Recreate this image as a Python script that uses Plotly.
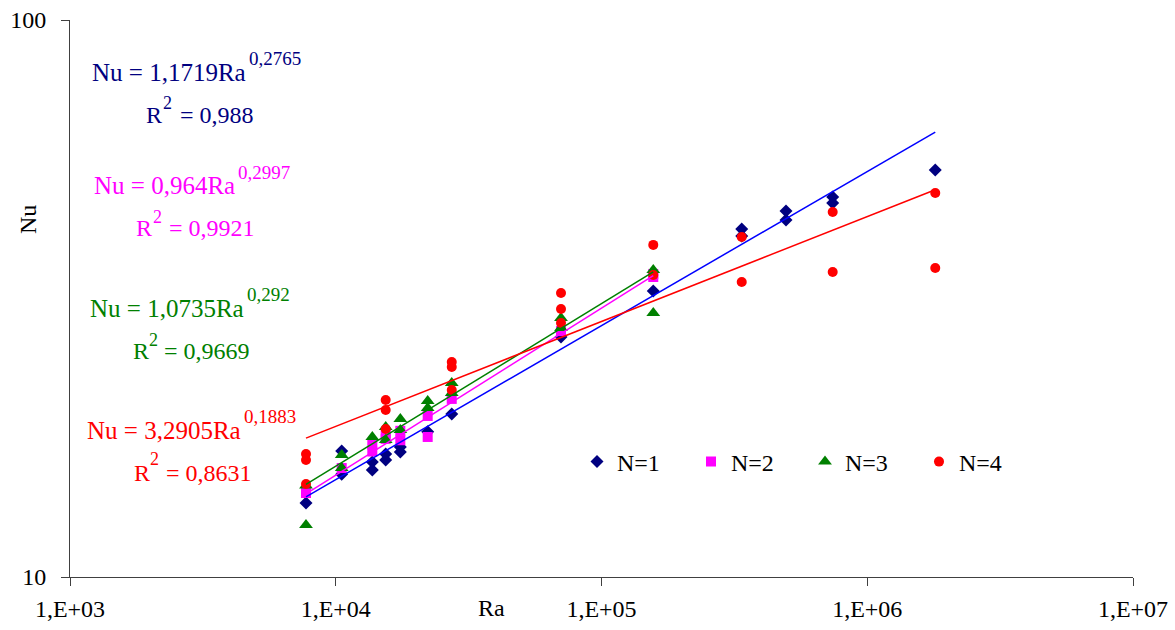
import numpy as np
import plotly.graph_objects as go

# Measured Nusselt numbers vs Rayleigh number for N = 1..4
ra_n1 = [7727, 10530, 10530, 13727, 13727, 15417, 15417, 17498, 17498, 22180, 27320,
         70400, 156600, 337000, 337000, 494700, 494700, 741300, 741300, 1803000]
nu_n1 = [13.58, 16.84, 15.30, 16.08, 15.56, 16.63, 16.22, 17.12, 16.77, 18.22, 19.62,
         26.97, 32.62, 42.16, 40.95, 45.41, 43.74, 48.11, 46.94, 53.8]

ra_n2 = [7727, 10530, 13727, 13727, 15417, 15417, 17498, 17498, 22180, 22180, 27320,
         70400, 156600, 156600]
nu_n2 = [14.15, 15.69, 17.3, 16.8, 18.1, 17.7, 18.3, 17.6, 19.46, 17.84, 20.88,
         27.64, 34.56, 35.0]

ra_n3 = [7727, 7727, 10530, 10530, 13727, 15417, 15417, 17498, 17498, 22180, 22180,
         27320, 27320, 70400, 70400, 156600, 156600]
nu_n3 = [14.6, 12.4, 16.56, 15.69, 17.84, 18.59, 17.62, 19.22, 18.36, 20.70, 20.12,
         22.30, 21.40, 29.17, 27.99, 35.58, 29.79]

ra_n4 = [7727, 7727, 7727, 15417, 15417, 15417, 27320, 27320, 27320, 70400, 70400, 70400,
         156600, 156600, 337000, 337000, 741300, 741300, 1803000, 1803000]
nu_n4 = [16.63, 16.22, 14.69, 20.79, 19.95, 18.44, 24.32, 23.82, 21.67, 32.35, 30.28, 28.58,
         39.47, 34.84, 40.78, 33.85, 45.22, 35.28, 48.92, 35.87]

# Power-law fits Nu = C * Ra^n
fit_c = [1.1719, 0.964, 1.0735, 3.2905]
fit_n = [0.2765, 0.2997, 0.292, 0.1883]
fit_r2 = ["0,988", "0,9921", "0,9669", "0,8631"]
fit_c_txt = ["1,1719", "0,964", "1,0735", "3,2905"]
fit_n_txt = ["0,2765", "0,2997", "0,292", "0,1883"]

series_names = ["N=1", "N=2", "N=3", "N=4"]
marker_colors = ["#000080", "#FF00FF", "#008000", "#FF0000"]
line_colors = ["#0000FF", "#FF00FF", "#008000", "#FF0000"]
symbols = ["diamond", "square", "triangle-up", "circle"]
sizes = [10, 10, 12, 10]

x_ticks = [1e3, 1e4, 1e5, 1e6, 1e7]
x_ticktext = ["1,E+03", "1,E+04", "1,E+05", "1,E+06", "1,E+07"]
y_ticks = [10, 100]
y_ticktext = ["10", "100"]

FONT = "Liberation Serif"
W, H = 1175, 630
L, R, T, B = 70, 42, 20, 53
PW, PH = W - L - R, H - T - B


def px(x):
    return (x - L) / PW


def py(y):
    return (H - B - y) / PH


fig = go.Figure()

data = [(ra_n1, nu_n1), (ra_n2, nu_n2), (ra_n3, nu_n3), (ra_n4, nu_n4)]
for i, (ra, nu) in enumerate(data):
    fig.add_trace(go.Scatter(
        x=ra, y=nu, mode="markers", name=series_names[i],
        marker=dict(symbol=symbols[i], size=sizes[i], color=marker_colors[i],
                    line=dict(width=0)),
    ))

for i, (ra, _) in enumerate(data):
    xs = np.logspace(np.log10(min(ra)), np.log10(max(ra)), 60)
    fig.add_trace(go.Scatter(
        x=xs, y=fit_c[i] * xs ** fit_n[i], mode="lines", showlegend=False,
        line=dict(color=line_colors[i], width=1.5), hoverinfo="skip",
    ))

# Equation labels: (exponent left x, main cap centre y, exponent centre y,
#                   R left x, R centre y, "2" left x, "2" centre y, "= r2" left x)
eq_pos = [
    (248, 73, 59, 145, 115, 162, 103, 179),
    (237, 186, 173, 135, 228, 152, 217, 168),
    (246, 308, 294, 132, 351, 148, 340, 163),
    (243, 430, 416, 133, 473, 149, 459, 165),
]
for i, p in enumerate(eq_pos):
    col = marker_colors[i]
    items = [
        (p[0] - 1, p[1], f"Nu = {fit_c_txt[i]}Ra", 25, "right"),
        (p[0], p[2], fit_n_txt[i], 19, "left"),
        (p[3], p[4], "R", 24, "left"),
        (p[5], p[6], "2", 18, "left"),
        (p[7], p[4], f"= {fit_r2[i]}", 24, "left"),
    ]
    for (x, y, txt, fs, anc) in items:
        fig.add_annotation(
            x=px(x), y=py(y), xref="paper", yref="paper", text=txt, showarrow=False,
            xanchor=anc, yanchor="middle", borderpad=0,
            font=dict(family=FONT, size=fs, color=col),
        )

# Axis titles
fig.add_annotation(x=px(28), y=py(220), xref="paper", yref="paper", text="Nu",
                   showarrow=False, textangle=-90, xanchor="center", yanchor="middle",
                   font=dict(family=FONT, size=24, color="black"))
fig.add_annotation(x=px(491), y=py(608), xref="paper", yref="paper", text="Ra",
                   showarrow=False, xanchor="center", yanchor="middle",
                   font=dict(family=FONT, size=24, color="black"))

fig.update_layout(
    width=W, height=H,
    margin=dict(l=L, r=R, t=T, b=B, autoexpand=False),
    paper_bgcolor="white", plot_bgcolor="white",
    font=dict(family=FONT, size=24, color="black"),
    showlegend=True,
    legend=dict(
        orientation="h", x=px(577), y=py(462), xanchor="left", yanchor="middle",
        font=dict(family=FONT, size=24, color="black"),
        entrywidth=69, entrywidthmode="pixels", bgcolor="rgba(0,0,0,0)",
    ),
    xaxis=dict(
        type="log", range=[3, 7], tickvals=x_ticks, ticktext=x_ticktext,
        showgrid=False, zeroline=False, showline=True, linecolor="#404040", linewidth=1,
        ticks="outside", ticklen=8, tickcolor="#404040", tickwidth=1, automargin=False,
        ticklabelstandoff=2, tickfont=dict(family=FONT, size=24, color="black"),
    ),
    yaxis=dict(
        type="log", range=[1, 2], tickvals=y_ticks, ticktext=y_ticktext,
        showgrid=True, gridcolor="black", griddash="dot", gridwidth=1, automargin=False,
        zeroline=False, showline=True, linecolor="#404040", linewidth=1,
        ticks="outside", ticklen=8, tickcolor="#404040", tickwidth=1,
        ticklabelstandoff=10, tickfont=dict(family=FONT, size=24, color="black"),
    ),
)

fig.write_html("out.html")
